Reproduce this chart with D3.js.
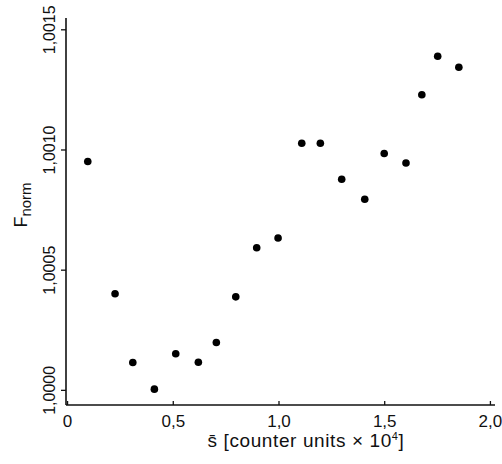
<!DOCTYPE html>
<html><head><meta charset="utf-8">
<script src="https://cdn.jsdelivr.net/npm/d3@7"></script>
<style>body{margin:0;background:#fff}svg{display:block}text{font-family:"Liberation Sans",Arial,sans-serif;fill:#111}</style>
</head><body>
<script>
const sValues = [0.098,0.227,0.311,0.413,0.514,0.621,0.706,0.798,0.897,0.998,1.110,1.198,1.299,1.408,1.500,1.603,1.678,1.753,1.853];
const fValues = [1.00095,1.00040,1.000114,1.000003,1.00015,1.000115,1.000197,1.000387,1.000591,1.000632,1.001026,1.001026,1.000876,1.000793,1.000983,1.000944,1.001228,1.001388,1.001342];
const xTicks = [0,0.5,1.0,1.5,2.0];
const xTickLabels = ["0","0,5","1,0","1,5","2,0"];
const yTicks = [1.0000,1.0005,1.0010,1.0015];
const yTickLabels = ["1,0000","1,0005","1,0010","1,0015"];

const W=502,H=464;
const svg=d3.select("body").append("svg").attr("width",W).attr("height",H);
const x=d3.scaleLinear().domain([-0.005,2.024]).range([66,495]);
const y=d3.scaleLinear().domain([0.999937,1.001547]).range([405,18]);
const [y0,y1]=y.domain();

svg.append("line").attr("x1",x(-0.005)).attr("x2",x(-0.005)).attr("y1",y(y0)).attr("y2",y(y1)).attr("stroke","#111").attr("stroke-width",1.6);
svg.append("line").attr("x1",x(-0.005)).attr("x2",x(2.024)).attr("y1",y(y0)).attr("y2",y(y0)).attr("stroke","#111").attr("stroke-width",1.6);

const xAxis=d3.axisBottom(x).tickValues(xTicks).tickFormat((d,i)=>xTickLabels[i]).tickSizeInner(-4).tickSizeOuter(0).tickPadding(10);
const gx=svg.append("g").attr("transform",`translate(0,${y(y0)})`).call(xAxis);
gx.select(".domain").remove();
gx.selectAll("line").attr("stroke","#111").attr("stroke-width",1.3);
gx.selectAll("text").attr("font-size",17).attr("font-family","Liberation Sans, Arial, sans-serif").attr("fill","#111");

const yAxis=d3.axisLeft(y).tickValues(yTicks).tickFormat((d,i)=>yTickLabels[i]).tickSizeInner(5).tickSizeOuter(0);
const gy=svg.append("g").attr("transform",`translate(${x(-0.005)},0)`).call(yAxis);
gy.select(".domain").remove();
gy.selectAll("line").attr("stroke","#111").attr("stroke-width",1.3);
gy.selectAll("text").attr("font-size",16).attr("font-family","Liberation Sans, Arial, sans-serif").attr("fill","#111")
  .attr("transform","rotate(-90)").attr("text-anchor","middle").attr("x",0).attr("dy",0).attr("y",-11);

svg.append("g").selectAll("circle").data(sValues).join("circle")
  .attr("cx",(d)=>x(d)).attr("cy",(d,i)=>y(fValues[i])).attr("r",3.8).attr("fill","#000");

svg.append("text").attr("x",306).attr("y",447).attr("text-anchor","middle").attr("font-size",19).attr("letter-spacing",0.6)
  .html('s\u0304 [counter units \u00d7 10<tspan font-size="11" dy="-7">4</tspan><tspan dy="7">]</tspan>');

svg.append("text").attr("transform","translate(27,205) rotate(-90)").attr("text-anchor","middle").attr("font-size",18)
  .html('F<tspan font-size="15" dy="4">norm</tspan>');
</script>
</body></html>
